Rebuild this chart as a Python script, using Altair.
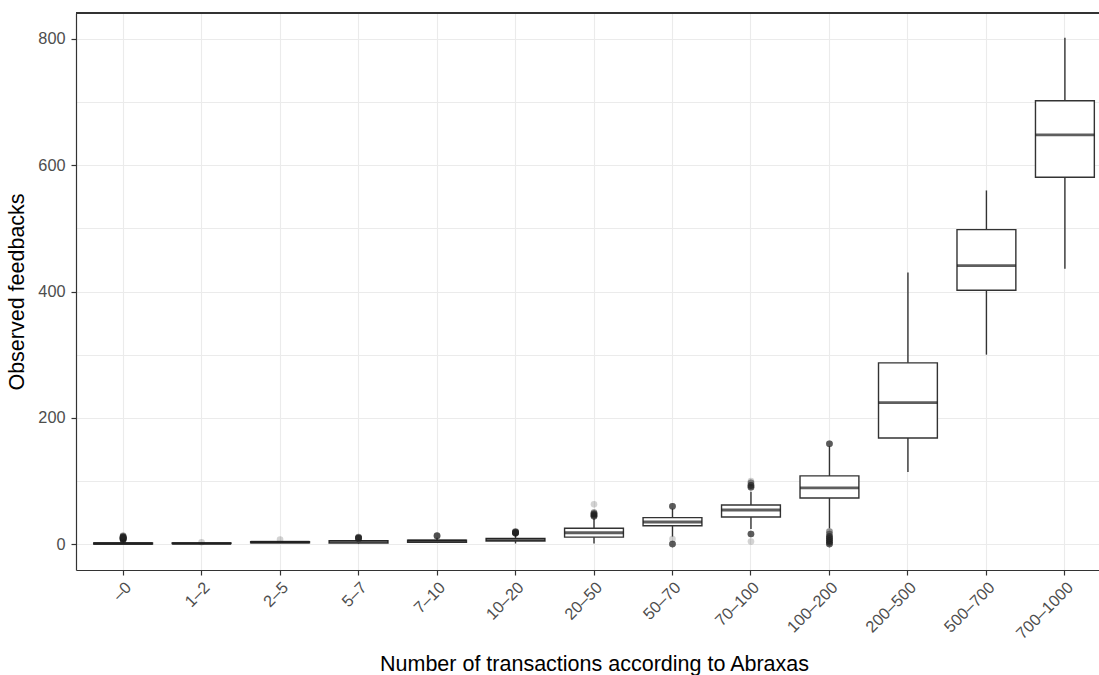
import altair as alt
import pandas as pd

# ---- data ----
categories = ["–0", "1–2", "2–5", "5–7", "7–10", "10–20", "20–50",
              "50–70", "70–100", "100–200", "200–500", "500–700", "700–1000"]
lower  = [0, 1, 2, 0, 2, 1, 1, 12, 24, 25, 114, 300, 436]
q1     = [0, 1, 2, 1.5, 3, 5, 11, 29, 43, 73, 168, 402, 581]
median = [1, 1, 3, 4, 5, 7, 18, 35, 54, 89, 224, 441, 648]
q3     = [2, 2, 4, 5.5, 6, 9, 25, 42, 62, 108, 287, 498, 702]
upper  = [6, 2, 5, 8, 10, 15, 41, 56, 83, 155, 430, 560, 802]

# outliers: category, value, number of overlapping observations
out_cat = ["–0", "–0", "–0", "–0", "–0", "–0", "–0",
           "1–2", "2–5",
           "5–7", "5–7", "5–7",
           "7–10", "7–10",
           "10–20", "10–20", "10–20", "10–20",
           "20–50", "20–50", "20–50", "20–50", "20–50",
           "50–70", "50–70", "50–70",
           "70–100", "70–100", "70–100", "70–100", "70–100", "70–100",
           "100–200", "100–200", "100–200", "100–200", "100–200",
           "100–200", "100–200", "100–200"]
out_val = [7, 8, 9, 10, 11, 12, 13,
           3, 7,
           9, 10, 11,
           13, 14,
           17, 18, 19, 20,
           44, 46, 48, 50, 63,
           60, 8, 0,
           90, 93, 97, 100, 16, 4,
           159, 0, 3, 6, 9, 12, 16, 20]
out_n   = [6, 6, 6, 6, 6, 3, 3,
           1, 1,
           6, 6, 3,
           6, 1,
           6, 6, 6, 3,
           6, 6, 6, 3, 1,
           6, 1, 6,
           6, 6, 3, 1, 6, 1,
           6, 6, 6, 6, 6, 6, 3, 3]

y_ticks = [0, 100, 200, 300, 400, 500, 600, 700, 800]

box = pd.DataFrame({"cat": categories, "lower": lower, "q1": q1,
                    "median": median, "q3": q3, "upper": upper})
rows = []
for c, v, n in zip(out_cat, out_val, out_n):
    rows += [{"cat": c, "val": v}] * n
outl = pd.DataFrame(rows)

# ---- layout ----
PLOT_W = 1023          # visible part of the panel (panel continues past the right edge)
RANGE_W = 1036         # full panel width in the original
STEP = RANGE_W / 13.2
FONT = "Liberation Sans"
DARK = "#333333"

xscale = alt.Scale(domain=categories, range=[0, RANGE_W],
                   paddingInner=0, paddingOuter=0.1)
yscale = alt.Scale(domain=[-41, 841], nice=False, zero=False)

xaxis = alt.Axis(title="Number of transactions according to Abraxas",
                 bandPosition=0.5, labelAngle=315, labelAlign="right",
                 labelBaseline="top", labelPadding=4,
                 labelFont=FONT, labelFontSize=16.3, labelColor="#4d4d4d",
                 titleFont=FONT, titleFontSize=21.5, titleColor="black",
                 titleFontWeight="normal", titlePadding=12,
                 domainColor=DARK, domainWidth=1.2,
                 tickColor=DARK, tickWidth=1.2, tickSize=5,
                 grid=True, gridColor="#ebebeb", gridWidth=1.1)
yaxis = alt.Axis(title="Observed feedbacks", values=y_ticks,
                 labelExpr="datum.value % 200 === 0 ? datum.label : ''",
                 tickOpacity={"condition": {"test": "datum.value % 200 !== 0", "value": 0}, "value": 1},
                 labelPadding=6, labelFont=FONT, labelFontSize=16.3,
                 labelColor="#4d4d4d",
                 titleFont=FONT, titleFontSize=21.5, titleColor="black",
                 titleFontWeight="normal", titlePadding=9,
                 domainColor=DARK, domainWidth=1.2,
                 tickColor=DARK, tickWidth=1.2, tickSize=5,
                 grid=True, gridColor="#ebebeb", gridWidth=1.1)

X = alt.X("cat:N", scale=xscale, axis=xaxis)

whisk = alt.Chart(box).mark_rule(color=DARK, strokeWidth=1.4).encode(
    x=X,
    y=alt.Y("lower:Q", scale=yscale, axis=yaxis),
    y2="upper:Q")

boxes = alt.Chart(box).mark_bar(fill="white", stroke=DARK, strokeWidth=1.4,
                                width=alt.RelativeBandSize(0.75)).encode(
    x=X, y="q1:Q", y2="q3:Q")

med = alt.Chart(box).mark_tick(color="#1a1a1a", thickness=2.8,
                               size=0.75 * STEP).encode(
    x=X, y="median:Q")

pts = alt.Chart(outl).mark_circle(color="#222222", opacity=0.2, size=44).encode(
    x=X, y="val:Q")

top_border = alt.Chart(box).mark_rule(color=DARK, strokeWidth=1.2).encode(
    x=alt.value(0), x2=alt.value(PLOT_W), y=alt.value(0))

chart = alt.layer(whisk, boxes, med, pts, top_border).properties(
    width=PLOT_W, height=557,
    autosize=alt.AutoSizeParams(type="none"),
    padding={"left": 76, "top": 13, "right": 0, "bottom": 105},
    background="white",
).configure_view(strokeWidth=0)

chart.save("out.html", embed_options={"renderer": "svg", "actions": False})
